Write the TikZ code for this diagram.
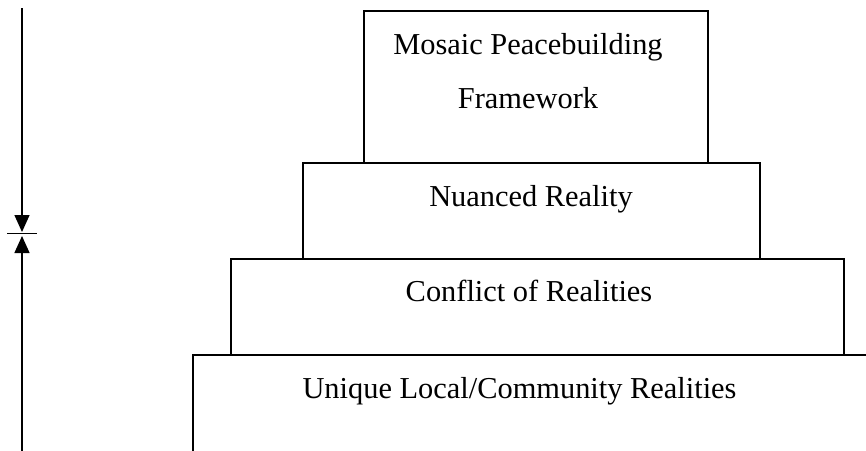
\documentclass[tikz,border=0pt]{standalone}
\usepackage{fontspec}
\setmainfont{Liberation Serif}
\usetikzlibrary{arrows.meta}
\begin{document}
\begin{tikzpicture}[x=1pt,y=-1pt,
  box/.style={draw=black,line width=1.8pt},
  lbl/.style={font=\fontsize{30.4}{36}\selectfont, anchor=base, inner sep=0pt},
  dimarrow/.style={line width=1.4pt, -{Triangle[length=17pt,width=15pt]}},
  dimbar/.style={line width=1pt}]
\useasboundingbox (0,0) rectangle (866,450);
% boxes
\draw[box] (193,456) -- (193,355) -- (872,355);
\draw[box] (231,259) rectangle (844,355);
\draw[box] (303,163) rectangle (760,259);
\draw[box] (364,11) rectangle (708,163);
% labels
\node[lbl] (mosaic) at (528,54) {Mosaic Peacebuilding};
\node[lbl] (frame) at (528,108) {Framework};
\node[lbl] (nuanced) at (531,206) {Nuanced Reality};
\node[lbl] (conflict) at (529,301) {Conflict of Realities};
\node[lbl] (unique) at (519.5,398) {Unique Local/Community Realities};
% left dimension marker
\coordinate (ttop) at (22,8);
\coordinate (tmid) at (22,232);
\coordinate (bmid) at (22,236);
\coordinate (bbot) at (22,456);
\coordinate (barL) at (7,233.5);
\coordinate (barR) at (37,233.5);
\draw[dimarrow] (ttop) -- (tmid);
\draw[dimarrow] (bbot) -- (bmid);
\draw[dimbar] (barL) -- (barR);
\end{tikzpicture}
\end{document}
